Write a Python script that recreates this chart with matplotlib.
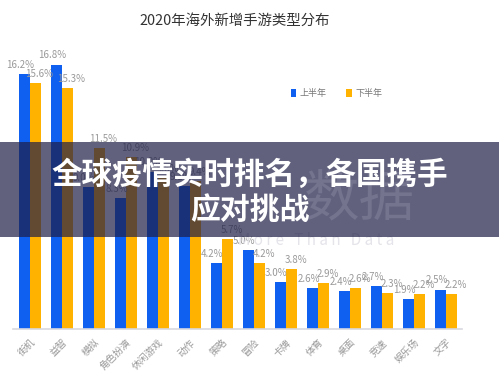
import matplotlib
matplotlib.use("Agg")
import matplotlib.pyplot as plt
from matplotlib.patches import Rectangle
import numpy as np

plt.rcParams['font.family'] = ['Noto Sans CJK SC', 'DejaVu Sans']

categories = ["街机", "益智", "模拟", "角色扮演", "休闲游戏", "动作", "策略",
              "冒险", "卡牌", "体育", "桌面", "竞速", "娱乐场", "文字"]
first_half = [16.2, 16.8, 9.0, 8.3, 10.0, 9.1, 4.2, 5.0, 3.0, 2.6, 2.4, 2.7, 1.9, 2.5]
second_half = [15.6, 15.3, 11.5, 10.9, 9.6, 9.4, 5.7, 4.2, 3.8, 2.9, 2.6, 2.3, 2.2, 2.2]

blue = "#0f5ff0"
yellow = "#ffb300"
grey = "#999999"

fig = plt.figure(figsize=(4.99, 3.81), dpi=100)
ax = fig.add_axes([0.026, 0.1365, 0.90, 0.7436])

x = np.arange(len(categories))
w = 0.34
ax.bar(x - w / 2 - 0.01, first_half, w, color=blue, label="上半年")
ax.bar(x + w / 2 + 0.01, second_half, w, color=yellow, label="下半年")

for xi, v in zip(x, first_half):
    ax.annotate(f"{v}%", (xi - w / 2, v), xytext=(-3, 3), textcoords="offset points",
                ha="center", va="bottom", fontsize=7, color=grey)
for xi, v in zip(x, second_half):
    ax.annotate(f"{v}%", (xi + w / 2, v), xytext=(3, 3), textcoords="offset points",
                ha="center", va="bottom", fontsize=7, color=grey)

ax.set_xlim(-0.53, 13.5)
ax.set_ylim(0, 18)
ax.set_xticks(x)
ax.set_xticklabels(categories, rotation=45, ha="right", va="top",
                   rotation_mode="anchor", fontsize=7, color=grey)
ax.tick_params(axis="x", length=0, pad=6)
ax.set_yticks([])
for s in ["top", "right", "left"]:
    ax.spines[s].set_visible(False)
ax.spines["bottom"].set_color("#d8d8e0")
ax.spines["bottom"].set_linewidth(1.2)

leg = ax.legend(loc="upper left", bbox_to_anchor=(0.6, 0.875), ncol=2, frameon=False,
                fontsize=6.5, handlelength=0.6, handleheight=0.9, columnspacing=2.2,
                handletextpad=0.4)
for t in leg.get_texts():
    t.set_color("#777777")

fig.text(0.471, 0.945, "2020年海外新增手游类型分布", ha="center", va="center",
         fontsize=10.4, color="#333333")

# watermark
fig.text(0.634, 0.37, "M o r e   T h a n   D a t a", ha="center", va="center",
         fontsize=11, color="#e4e4ea", zorder=0)

# dark banner over the chart
fig.patches.append(Rectangle((0, 1 - 237 / 381), 1, 95 / 381, transform=fig.transFigure,
                             facecolor=(30 / 255, 30 / 255, 70 / 255), alpha=0.7,
                             edgecolor="none", zorder=5))
fig.text(0.72, 1 - 200 / 381, "数据", ha="center", va="center", fontsize=40,
         color="#74748f", zorder=5.5)
fig.text(0.5, 1 - 175 / 381, "全球疫情实时排名，各国携手", ha="center", va="center",
         fontsize=22, fontweight="bold", color="white", zorder=6)
fig.text(0.5, 1 - 210 / 381, "应对挑战", ha="center", va="center",
         fontsize=21.5, fontweight="bold", color="white", zorder=6)

fig.savefig("out.png", dpi=100)
